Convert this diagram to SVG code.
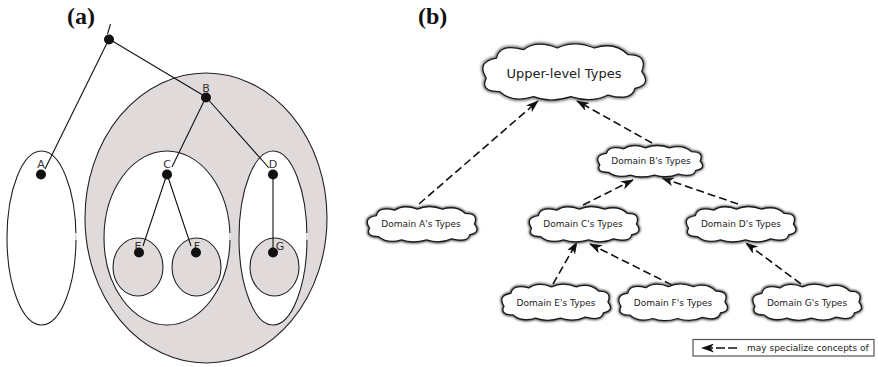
<svg xmlns="http://www.w3.org/2000/svg" xmlns:xlink="http://www.w3.org/1999/xlink" width="878" height="367" viewBox="0 0 878 367">
  <style>
    .panel { font-family: "Liberation Serif", "Times New Roman", serif; font-weight: bold; font-size: 24px; fill: #111; }
    .region { stroke: #222; stroke-width: 1.1; }
    .gray { fill: #e1dadb; }
    .white { fill: #fff; }
    .edge { stroke: #111; stroke-width: 1.1; fill: none; }
    .dot { fill: #111; }
    .lbl { font-family: "DejaVu Sans", sans-serif; font-size: 11px; fill: #333; text-anchor: middle; }
    .ctext { font-family: "DejaVu Sans", sans-serif; font-size: 9px; fill: #222; text-anchor: middle; }
    .ctext-big { font-family: "DejaVu Sans", sans-serif; font-size: 13px; fill: #222; text-anchor: middle; }
    .link { stroke: #111; stroke-width: 1.6; fill: none; stroke-dasharray: 8 4; marker-end: url(#head); }
    .legend-box { fill: #fff; stroke: #555; stroke-width: 1.2; }
    .halo { fill: none; stroke: #555; stroke-width: 3.2; }
    .cloud { fill: #fff; stroke: #1a1a1a; stroke-width: 1.3; }
  </style>
  <defs>
    <!-- bumpy cloud outline, about 98 x 34 around the origin -->
    <path id="cloud" vector-effect="non-scaling-stroke" d="M -46,4 Q -52,-6 -40,-8 Q -38,-17 -24,-13 Q -16,-19 -4,-14 Q 6,-19 18,-14 Q 30,-18 38,-10 Q 50,-10 46,0 Q 52,8 42,10 Q 40,18 26,14 Q 16,19 4,15 Q -8,19 -18,15 Q -30,19 -38,12 Q -50,12 -46,4 Z"/>
    <filter id="soft" x="-20%" y="-30%" width="140%" height="160%">
      <feGaussianBlur stdDeviation="1.1"/>
    </filter>
    <marker id="head" viewBox="0 0 13 9" refX="12" refY="4.5" markerWidth="13" markerHeight="9" markerUnits="userSpaceOnUse" orient="auto">
      <path d="M0,0 L13,4.5 L0,9 L3.5,4.5 Z" fill="#111"/>
    </marker>
  </defs>

  <!-- panel (a): nested containment of types -->
  <text class="panel" x="67" y="24">(a)</text>

  <g id="region-B">
    <ellipse class="region gray" cx="206" cy="218" rx="121" ry="145"/>
  </g>
  <g id="region-A">
    <ellipse class="region white" cx="41.5" cy="238" rx="34.5" ry="87"/>
    <line x1="76" y1="233" x2="76" y2="240" stroke="#fff" stroke-width="1.5"/>
  </g>
  <g id="region-C">
    <ellipse class="region white" cx="167" cy="238" rx="63" ry="87"/>
    <line x1="230" y1="233" x2="230" y2="240" stroke="#fff" stroke-width="1.5"/>
  </g>
  <g id="region-D">
    <ellipse class="region white" cx="273" cy="238" rx="34" ry="87"/>
    <line x1="307" y1="233" x2="307" y2="240" stroke="#fff" stroke-width="1.5"/>
  </g>
  <g id="region-E">
    <ellipse class="region gray" cx="138" cy="267" rx="25" ry="29"/>
  </g>
  <g id="region-F">
    <ellipse class="region gray" cx="196.5" cy="267" rx="24.5" ry="29"/>
  </g>
  <g id="region-G">
    <ellipse class="region gray" cx="274.5" cy="267" rx="24.5" ry="29"/>
  </g>

  <g id="tree-edges">
    <line class="edge" x1="110.5" y1="24" x2="107.5" y2="34"/>
    <line class="edge" x1="109" y1="39" x2="45" y2="169"/>
    <line class="edge" x1="109" y1="39" x2="206" y2="97"/>
    <line class="edge" x1="206" y1="97" x2="172" y2="167"/>
    <line class="edge" x1="206" y1="97" x2="269" y2="168"/>
    <line class="edge" x1="273" y1="174" x2="273" y2="252"/>
    <line class="edge" x1="167" y1="174" x2="143" y2="246"/>
    <line class="edge" x1="167" y1="174" x2="191" y2="246"/>
  </g>

  <g id="node-root"><circle class="dot" cx="109" cy="39.5" r="5"/></g>
  <g id="node-A"><text class="lbl" x="41" y="168">A</text><circle class="dot" cx="41" cy="174.5" r="5"/></g>
  <g id="node-B"><text class="lbl" x="206" y="92">B</text><circle class="dot" cx="206" cy="97.5" r="5"/></g>
  <g id="node-C"><text class="lbl" x="167" y="168">C</text><circle class="dot" cx="167" cy="174.5" r="5"/></g>
  <g id="node-D"><text class="lbl" x="273" y="168">D</text><circle class="dot" cx="273" cy="174.5" r="5"/></g>
  <g id="node-E"><text class="lbl" x="138" y="250">E</text><circle class="dot" cx="139" cy="252.5" r="5"/></g>
  <g id="node-F"><text class="lbl" x="197" y="250">F</text><circle class="dot" cx="196" cy="252.5" r="5"/></g>
  <g id="node-G"><text class="lbl" x="280" y="250">G</text><circle class="dot" cx="273" cy="252.5" r="5"/></g>

  <!-- panel (b): specialization hierarchy of type clouds -->
  <text class="panel" x="418" y="24">(b)</text>

  <g id="links">
    <line class="link" x1="419" y1="204" x2="538" y2="101"/>
    <line class="link" x1="652" y1="143" x2="577" y2="101"/>
    <line class="link" x1="583" y1="205" x2="633" y2="180"/>
    <line class="link" x1="738" y1="204" x2="662" y2="178"/>
    <line class="link" x1="553" y1="284" x2="577" y2="242"/>
    <line class="link" x1="672" y1="285" x2="590" y2="244"/>
    <line class="link" x1="801" y1="284" x2="746" y2="243"/>
  </g>

  <g id="cloud-upper">
    <use xlink:href="#cloud" class="halo" transform="translate(564,71.5) scale(1.69,1.68)" filter="url(#soft)"/>
    <use xlink:href="#cloud" class="cloud" transform="translate(564,71.5) scale(1.69,1.68)"/>
    <text class="ctext-big" x="564" y="78">Upper-level Types</text>
  </g>
  <g id="cloud-B">
    <use xlink:href="#cloud" class="halo" transform="translate(650,161) scale(1.09,0.94)" filter="url(#soft)"/>
    <use xlink:href="#cloud" class="cloud" transform="translate(650,161) scale(1.09,0.94)"/>
    <text class="ctext" x="651" y="164">Domain B's Types</text>
  </g>
  <g id="cloud-A">
    <use xlink:href="#cloud" class="halo" transform="translate(422,224) scale(1.14,1.06)" filter="url(#soft)"/>
    <use xlink:href="#cloud" class="cloud" transform="translate(422,224) scale(1.14,1.06)"/>
    <text class="ctext" x="421" y="227">Domain A's Types</text>
  </g>
  <g id="cloud-C">
    <use xlink:href="#cloud" class="halo" transform="translate(584,224) scale(1.14,1.06)" filter="url(#soft)"/>
    <use xlink:href="#cloud" class="cloud" transform="translate(584,224) scale(1.14,1.06)"/>
    <text class="ctext" x="583" y="227">Domain C's Types</text>
  </g>
  <g id="cloud-D">
    <use xlink:href="#cloud" class="halo" transform="translate(741,224) scale(1.14,1.06)" filter="url(#soft)"/>
    <use xlink:href="#cloud" class="cloud" transform="translate(741,224) scale(1.14,1.06)"/>
    <text class="ctext" x="741" y="227">Domain D's Types</text>
  </g>
  <g id="cloud-E">
    <use xlink:href="#cloud" class="halo" transform="translate(556,302) scale(1.13,1.08)" filter="url(#soft)"/>
    <use xlink:href="#cloud" class="cloud" transform="translate(556,302) scale(1.13,1.08)"/>
    <text class="ctext" x="556" y="306">Domain E's Types</text>
  </g>
  <g id="cloud-F">
    <use xlink:href="#cloud" class="halo" transform="translate(673,302) scale(1.13,1.1)" filter="url(#soft)"/>
    <use xlink:href="#cloud" class="cloud" transform="translate(673,302) scale(1.13,1.1)"/>
    <text class="ctext" x="673" y="306">Domain F's Types</text>
  </g>
  <g id="cloud-G">
    <use xlink:href="#cloud" class="halo" transform="translate(807,302) scale(1.13,1.08)" filter="url(#soft)"/>
    <use xlink:href="#cloud" class="cloud" transform="translate(807,302) scale(1.13,1.08)"/>
    <text class="ctext" x="807" y="306">Domain G's Types</text>
  </g>

  <g id="legend">
    <rect class="legend-box" x="693" y="339.5" width="181" height="16.5"/>
    <line x1="737" y1="348" x2="702" y2="348" stroke="#111" stroke-width="1.6" stroke-dasharray="9 3" marker-end="url(#head)"/>
    <text x="747" y="351" font-family="DejaVu Sans, sans-serif" font-size="9px" fill="#222">may specialize concepts of</text>
  </g>
</svg>
